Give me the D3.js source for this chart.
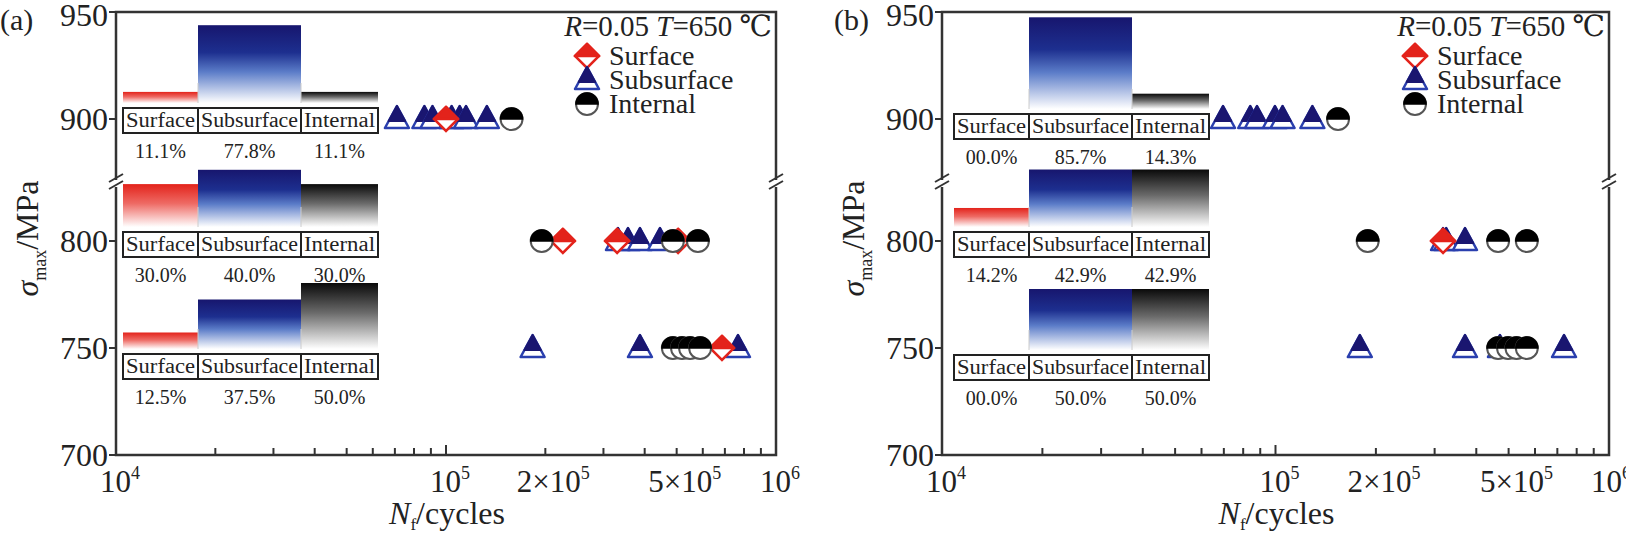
<!DOCTYPE html>
<html><head><meta charset="utf-8">
<script src="https://cdn.jsdelivr.net/npm/d3@7"></script>
<style>body{margin:0;background:#fff}svg{display:block}text{font-family:"Liberation Serif","DejaVu Serif",serif}</style>
</head><body><svg id="c" width="1626" height="535"></svg>
<script>
// ---- data ----
const panels = ["(a)", "(b)"];
const modes = ["Surface", "Subsurface", "Internal"];
const stressLevels = [900, 800, 750];
const yTicks = [700, 750, 800, 900, 950];
// panel (a) failure cycles
const aSurface = [[100000, 900], [226000, 800], [330000, 800], [505000, 800], [686000, 750]];
const aSubsurface = [[71000, 900], [86000, 900], [91000, 900], [104000, 900], [110000, 900], [115000, 900], [133000, 900],
  [332000, 800], [356000, 800], [387000, 800], [445000, 800],
  [183000, 750], [387000, 750], [767000, 750]];
const aInternal = [[158000, 900], [195000, 800], [487000, 800], [580000, 800],
  [487000, 750], [519000, 750], [549000, 750], [589000, 750]];
// panel (b)
const bSurface = [[318000, 800]];
const bSubsurface = [[69600, 900], [84000, 900], [88000, 900], [99600, 900], [105000, 900], [129000, 900],
  [318000, 800], [325000, 800], [370000, 800],
  [179000, 750], [370000, 750], [471000, 750], [733000, 750]];
const bInternal = [[154000, 900], [189000, 800], [465000, 800], [567000, 800],
  [465000, 750], [498000, 750], [528000, 750], [567000, 750]];
// inset percentages [surface, subsurface, internal] per stress level
const aPercent = [[11.1, 77.8, 11.1], [30.0, 40.0, 30.0], [12.5, 37.5, 50.0]];
const bPercent = [[0.0, 85.7, 14.3], [14.2, 42.9, 42.9], [0.0, 50.0, 50.0]];
const percentLabels = [["11.1%", "77.8%", "11.1%"], ["30.0%", "40.0%", "30.0%"], ["12.5%", "37.5%", "50.0%"],
  ["00.0%", "85.7%", "14.3%"], ["14.2%", "42.9%", "42.9%"], ["00.0%", "50.0%", "50.0%"]];

// ---- drawing ----
const svg = d3.select("#c");
const defs = svg.append("defs");
function grad(id, stops) {
  const g = defs.append("linearGradient").attr("id", id).attr("x1", 0).attr("y1", 0).attr("x2", 0).attr("y2", 1);
  stops.forEach(s => g.append("stop").attr("offset", s[0]).attr("stop-color", s[1]));
}
grad("gS", [[0, "#e3231b"], [0.45, "#ee6a64"], [1, "#ffffff"]]);
grad("gU", [[0, "#17166e"], [0.35, "#1d2f8f"], [0.6, "#5b7cc8"], [1, "#ffffff"]]);
grad("gI", [[0, "#0a0a0a"], [0.45, "#6a6a6a"], [1, "#ffffff"]]);
const fills = ["url(#gS)", "url(#gU)", "url(#gI)"];

const red = "#e3231b", navy = "#1a1670", blue = "#2a3fae";

function diamond(g, x, y) {
  const r = 12;
  g.append("path").attr("d", `M${x},${y - r}L${x + r},${y}L${x},${y + r}L${x - r},${y}Z`).attr("fill", "#fff").attr("stroke", red).attr("stroke-width", 2.5);
  g.append("path").attr("d", `M${x},${y - r}L${x + r},${y}L${x - r},${y}Z`).attr("fill", red).attr("stroke", red).attr("stroke-width", 2.5).attr("stroke-linejoin", "round");
}
function triangle(g, x, y) {
  const w = 12, top = y - 13, bot = y + 9;
  g.append("path").attr("d", `M${x},${top}L${x + w},${bot}L${x - w},${bot}Z`).attr("fill", "#fff").attr("stroke", blue).attr("stroke-width", 2.5).attr("stroke-linejoin", "round");
  const ym = y + 2, k = (ym - top) / (bot - top) * w;
  g.append("path").attr("d", `M${x},${top}L${x + k},${ym}L${x - k},${ym}Z`).attr("fill", navy).attr("stroke", navy).attr("stroke-width", 2).attr("stroke-linejoin", "round");
}
function circle(g, x, y) {
  const r = 11;
  g.append("circle").attr("cx", x).attr("cy", y).attr("r", r).attr("fill", "#fff").attr("stroke", "#555").attr("stroke-width", 2);
  g.append("path").attr("d", `M${x - r},${y}A${r},${r} 0 0 1 ${x + r},${y}Z`).attr("fill", "#000").attr("stroke", "#000").attr("stroke-width", 1.5);
}

const cfg = [
  { left: 116, right: 776, lab: 0, insetX: 7, tableTops: [108, 232, 354], pxPer: [1.0, 1.43, 1.32],
    S: aSurface, U: aSubsurface, I: aInternal, P: aPercent, legX: 587 },
  { left: 942, right: 1609, lab: 834, insetX: 12, tableTops: [114, 232, 355], pxPer: [1.07, 1.34, 1.22],
    S: bSurface, U: bSubsurface, I: bInternal, P: bPercent, legX: 1415 }
];
const colW = [75, 103, 77];

cfg.forEach((c, pi) => {
  const g = svg.append("g");
  const x = d3.scaleLog().domain([1e4, 1e6]).range([c.left, c.right]);
  const y = d3.scaleLinear().domain([700, 800, 826, 870, 900, 950]).range([455, 241, 185, 183, 119, 12]);
  const top = 12, bottom = 455;

  // insets
  const x0 = c.left + c.insetX;
  c.tableTops.forEach((tt, li) => {
    const base = tt - 5;
    let cx = x0;
    c.P[li].forEach((p, k) => {
      const h = p * c.pxPer[li];
      if (h > 0) g.append("rect").attr("x", cx).attr("y", base - h).attr("width", colW[k]).attr("height", h).attr("fill", fills[k]);
      g.append("rect").attr("x", cx).attr("y", tt).attr("width", colW[k]).attr("height", 25).attr("fill", "#fff").attr("stroke", "#222").attr("stroke-width", 2);
      g.append("text").attr("x", cx + colW[k] / 2).attr("y", tt + 19).attr("text-anchor", "middle").attr("font-size", 20).attr("textLength", colW[k] - 6).attr("lengthAdjust", "spacingAndGlyphs").attr("fill", "#222").text(modes[k]);
      g.append("text").attr("x", cx + colW[k] / 2).attr("y", tt + 50).attr("text-anchor", "middle").attr("font-size", 20).attr("fill", "#222").text(percentLabels[pi * 3 + li][k]);
      cx += colW[k];
    });
    [colW[0], colW[0] + colW[1]].forEach(o => {
      g.append("line").attr("x1", x0 + o).attr("x2", x0 + o).attr("y1", base - 20).attr("y2", base).attr("stroke", "#ccc").attr("stroke-width", 1);
    });
  });

  // frame
  g.append("rect").attr("x", c.left).attr("y", top).attr("width", c.right - c.left).attr("height", bottom - top).attr("fill", "none").attr("stroke", "#333").attr("stroke-width", 2.5);

  // x ticks
  const xt = [];
  for (let d = 1e4; d < 1e6; d *= 10) for (let m = 1; m < 10; m++) xt.push(d * m);
  xt.forEach(v => {
    const major = Math.abs(Math.log10(v) % 1) < 1e-9;
    g.append("line").attr("x1", x(v)).attr("x2", x(v)).attr("y1", bottom).attr("y2", bottom - (major ? 10 : 7)).attr("stroke", "#333").attr("stroke-width", 2);
  });
  function sup(xp, base, exp, pre) {
    const t = g.append("text").attr("x", xp).attr("y", 492).attr("text-anchor", "middle").attr("font-size", 31).attr("fill", "#222");
    if (pre) t.append("tspan").text(pre);
    t.append("tspan").text(base);
    t.append("tspan").attr("dy", -13).attr("font-size", 18).text(exp);
  }
  sup(x(1e4) + 4, "10", "4");
  sup(x(1e5) + 4, "10", "5");
  sup(x(2e5) + 8, "10", "5", "2×");
  sup(x(5e5) + 8, "10", "5", "5×");
  sup(Math.min(x(1e6) + 4, 1611), "10", "6");

  // y ticks
  yTicks.forEach(v => {
    g.append("line").attr("x1", c.left).attr("x2", c.left - 7).attr("y1", y(v)).attr("y2", y(v)).attr("stroke", "#333").attr("stroke-width", 2);
    g.append("text").attr("x", c.left - 8).attr("y", Math.max(y(v) + 11, 26)).attr("text-anchor", "end").attr("font-size", 32).attr("fill", "#222").text(v);
  });
  // axis breaks
  [c.left, c.right].forEach(bx => {
    g.append("rect").attr("x", bx - 6).attr("y", 180).attr("width", 12).attr("height", 7).attr("fill", "#fff");
    [178, 185].forEach(by => g.append("line").attr("x1", bx - 7).attr("x2", bx + 7).attr("y1", by + 4).attr("y2", by - 4).attr("stroke", "#333").attr("stroke-width", 2));
  });

  // axis titles
  const yt = g.append("text").attr("transform", `translate(${c.left - 78},${(top + bottom) / 2 + 5}) rotate(-90)`).attr("text-anchor", "middle").attr("font-size", 32).attr("fill", "#222");
  yt.append("tspan").attr("font-style", "italic").text("σ");
  yt.append("tspan").attr("font-size", 18).attr("dy", 8).text("max");
  yt.append("tspan").attr("dy", -8).text("/MPa");
  const xtt = g.append("text").attr("x", (c.left + c.right) / 2 + 1).attr("y", 524).attr("text-anchor", "middle").attr("font-size", 32).attr("fill", "#222");
  xtt.append("tspan").attr("font-style", "italic").text("N");
  xtt.append("tspan").attr("font-size", 17).attr("dy", 6).text("f");
  xtt.append("tspan").attr("dy", -6).text("/cycles");

  // panel label
  g.append("text").attr("x", c.lab).attr("y", 30).attr("font-size", 30).attr("fill", "#222").text(panels[pi]);

  // data
  c.U.forEach(d => triangle(g, x(d[0]), y(d[1])));
  c.S.forEach(d => diamond(g, x(d[0]), y(d[1])));
  c.I.forEach(d => circle(g, x(d[0]), y(d[1])));

  // legend
  const tt = g.append("text").attr("x", c.right - 4).attr("y", 36).attr("text-anchor", "end").attr("font-size", 29).attr("fill", "#222");
  tt.append("tspan").attr("font-style", "italic").text("R");
  tt.append("tspan").text("=0.05 ");
  tt.append("tspan").attr("font-style", "italic").text("T");
  tt.append("tspan").text("=650 ℃");
  const lx = c.legX;
  [[diamond, 56], [triangle, 80], [circle, 104]].forEach((m, k) => {
    m[0](g, lx, m[1]);
    g.append("text").attr("x", lx + 22).attr("y", m[1] + 9).attr("font-size", 28).attr("fill", "#222").text(modes[k]);
  });
});
</script></body></html>
